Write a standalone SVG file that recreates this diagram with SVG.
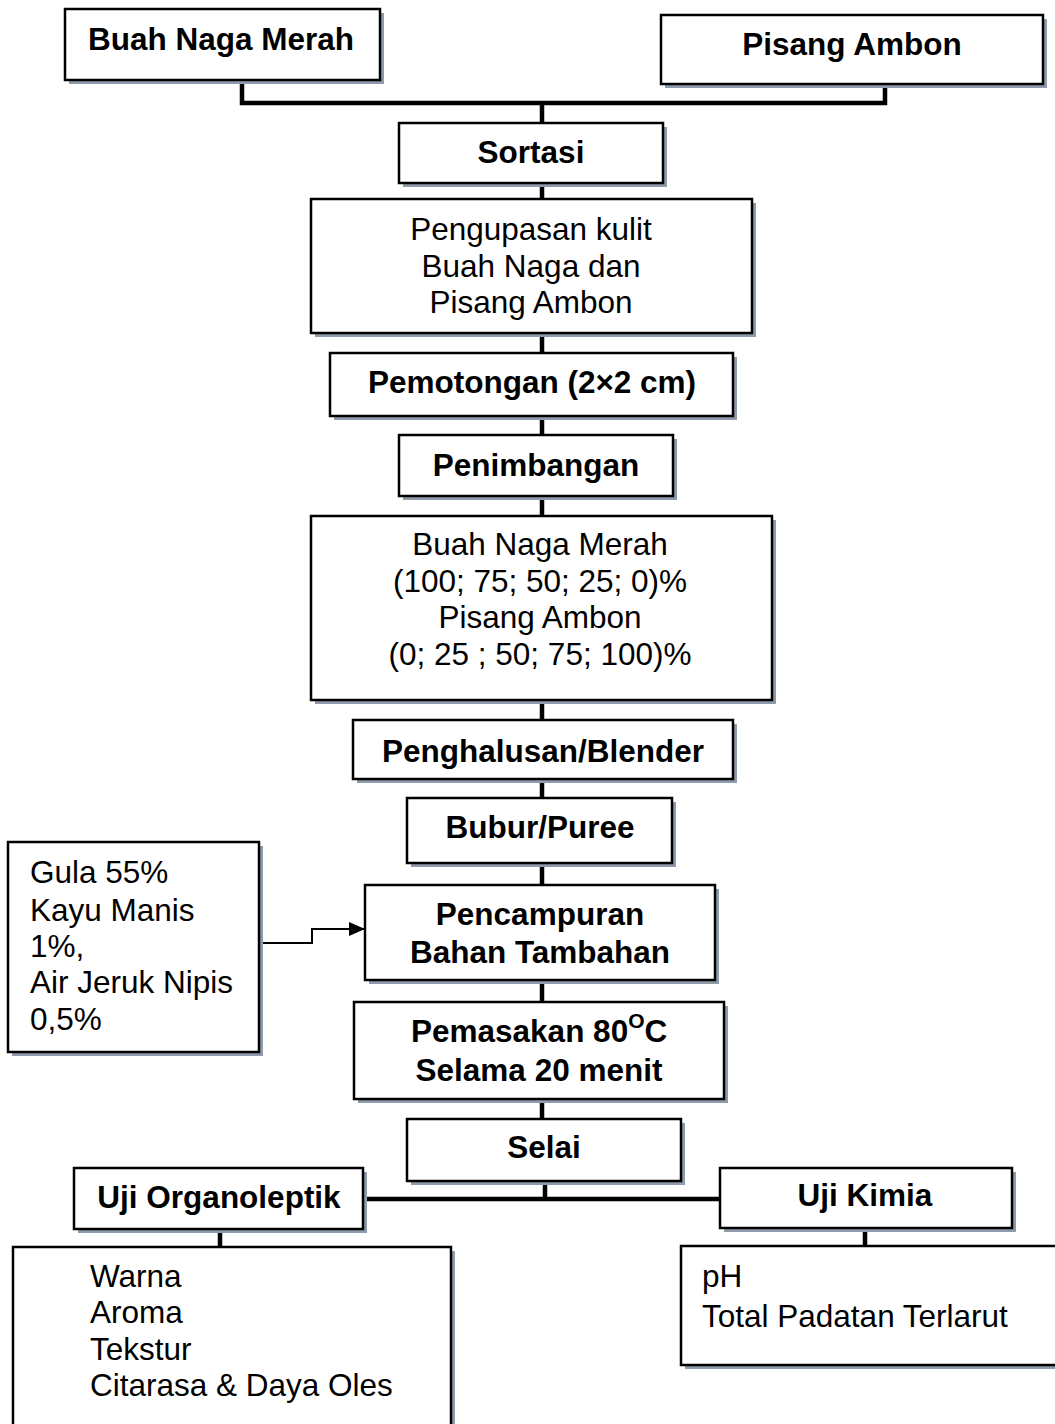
<svg xmlns="http://www.w3.org/2000/svg" width="1055" height="1424" viewBox="0 0 1055 1424">
<style>
.sh{fill:#8e9bab}
.bx{fill:#fff;stroke:#000;stroke-width:2.5}
.b{font-family:"Liberation Sans",Arial,sans-serif;font-size:31.5px;font-weight:bold;fill:#000;text-anchor:middle}
.r{font-family:"Liberation Sans",Arial,sans-serif;font-size:31.5px;fill:#000;text-anchor:middle}
.l{font-family:"Liberation Sans",Arial,sans-serif;font-size:31.5px;fill:#000}
.c{fill:none;stroke:#000;stroke-width:4.5}
.t{fill:none;stroke:#000;stroke-width:2}
</style>
<defs>
<marker id="ah" markerWidth="16" markerHeight="14" refX="15" refY="7" orient="auto" markerUnits="userSpaceOnUse">
<path d="M0,0 L16,7 L0,14 Z" fill="#000"/>
</marker>
</defs>
<rect width="1055" height="1424" fill="#fff"/>
<g id="connectors">
<path class="c" d="M242,80 V103 H885 V84"/>
<path class="c" d="M542,103 V123"/>
<path class="c" d="M542,183 V199"/>
<path class="c" d="M542,333 V353"/>
<path class="c" d="M542,416 V435"/>
<path class="c" d="M542,496 V516"/>
<path class="c" d="M542,700 V720"/>
<path class="c" d="M542,779 V798"/>
<path class="c" d="M542,863 V885"/>
<path class="c" d="M542,980 V1002"/>
<path class="c" d="M542,1099 V1119"/>
<path class="c" d="M545,1181 V1199"/>
<path class="c" d="M363,1199 H720"/>
<path class="c" d="M220,1229 V1247"/>
<path class="c" d="M865,1228 V1246"/>
<path class="t" d="M259,943 H312 V929 H364" marker-end="url(#ah)"/>
</g>
<g id="buah-naga-merah">
<rect class="sh" x="69" y="13" width="315" height="71"/>
<rect class="bx" x="65" y="9" width="315" height="71"/>
<text class="b" x="221" y="50">Buah Naga Merah</text>
</g>
<g id="pisang-ambon">
<rect class="sh" x="665" y="19" width="382" height="69"/>
<rect class="bx" x="661" y="15" width="382" height="69"/>
<text class="b" x="852" y="55">Pisang Ambon</text>
</g>
<g id="sortasi">
<rect class="sh" x="403" y="127" width="264" height="60"/>
<rect class="bx" x="399" y="123" width="264" height="60"/>
<text class="b" x="531" y="163">Sortasi</text>
</g>
<g id="pengupasan">
<rect class="sh" x="315" y="203" width="441" height="134"/>
<rect class="bx" x="311" y="199" width="441" height="134"/>
<text class="r" x="531" y="240">Pengupasan kulit</text>
<text class="r" x="531" y="277">Buah Naga dan</text>
<text class="r" x="531" y="313">Pisang Ambon</text>
</g>
<g id="pemotongan">
<rect class="sh" x="334" y="357" width="403" height="63"/>
<rect class="bx" x="330" y="353" width="403" height="63"/>
<text class="b" x="532" y="393">Pemotongan (2×2 cm)</text>
</g>
<g id="penimbangan">
<rect class="sh" x="403" y="439" width="274" height="61"/>
<rect class="bx" x="399" y="435" width="274" height="61"/>
<text class="b" x="536" y="476">Penimbangan</text>
</g>
<g id="formulasi">
<rect class="sh" x="315" y="520" width="461" height="184"/>
<rect class="bx" x="311" y="516" width="461" height="184"/>
<text class="r" x="540" y="555">Buah Naga Merah</text>
<text class="r" x="540" y="592">(100; 75; 50; 25; 0)%</text>
<text class="r" x="540" y="628">Pisang Ambon</text>
<text class="r" x="540" y="665">(0; 25 ; 50; 75; 100)%</text>
</g>
<g id="penghalusan">
<rect class="sh" x="357" y="724" width="380" height="59"/>
<rect class="bx" x="353" y="720" width="380" height="59"/>
<text class="b" x="543" y="762">Penghalusan/Blender</text>
</g>
<g id="bubur">
<rect class="sh" x="411" y="802" width="265" height="65"/>
<rect class="bx" x="407" y="798" width="265" height="65"/>
<text class="b" x="540" y="838">Bubur/Puree</text>
</g>
<g id="bahan-tambahan">
<rect class="sh" x="12" y="846" width="251" height="210"/>
<rect class="bx" x="8" y="842" width="251" height="210"/>
<text class="l" x="30" y="883">Gula 55%</text>
<text class="l" x="30" y="921">Kayu Manis</text>
<text class="l" x="30" y="957">1%,</text>
<text class="l" x="30" y="993">Air Jeruk Nipis</text>
<text class="l" x="30" y="1030">0,5%</text>
</g>
<g id="pencampuran">
<rect class="sh" x="369" y="889" width="350" height="95"/>
<rect class="bx" x="365" y="885" width="350" height="95"/>
<text class="b" x="540" y="925">Pencampuran</text>
<text class="b" x="540" y="963">Bahan Tambahan</text>
</g>
<g id="pemasakan">
<rect class="sh" x="358" y="1006" width="370" height="97"/>
<rect class="bx" x="354" y="1002" width="370" height="97"/>
<text class="b" x="411" y="1042" style="text-anchor:start">Pemasakan 80<tspan font-size="21" dy="-14">O</tspan><tspan dy="14">C</tspan></text>
<text class="b" x="539" y="1081">Selama 20 menit</text>
</g>
<g id="selai">
<rect class="sh" x="411" y="1123" width="274" height="62"/>
<rect class="bx" x="407" y="1119" width="274" height="62"/>
<text class="b" x="544" y="1158">Selai</text>
</g>
<g id="uji-organoleptik">
<rect class="sh" x="78" y="1172" width="289" height="61"/>
<rect class="bx" x="74" y="1168" width="289" height="61"/>
<text class="b" x="219" y="1208">Uji Organoleptik</text>
</g>
<g id="uji-kimia">
<rect class="sh" x="724" y="1172" width="292" height="60"/>
<rect class="bx" x="720" y="1168" width="292" height="60"/>
<text class="b" x="865" y="1206">Uji Kimia</text>
</g>
<g id="parameter-organoleptik">
<rect class="sh" x="17" y="1251" width="438" height="200"/>
<rect class="bx" x="13" y="1247" width="438" height="200"/>
<text class="l" x="90" y="1287">Warna</text>
<text class="l" x="90" y="1323">Aroma</text>
<text class="l" x="90" y="1360">Tekstur</text>
<text class="l" x="90" y="1396">Citarasa &amp; Daya Oles</text>
</g>
<g id="parameter-kimia">
<rect class="sh" x="685" y="1250" width="400" height="119"/>
<rect class="bx" x="681" y="1246" width="400" height="119"/>
<text class="l" x="702" y="1287">pH</text>
<text class="l" x="702" y="1327">Total Padatan Terlarut</text>
</g>
</svg>
